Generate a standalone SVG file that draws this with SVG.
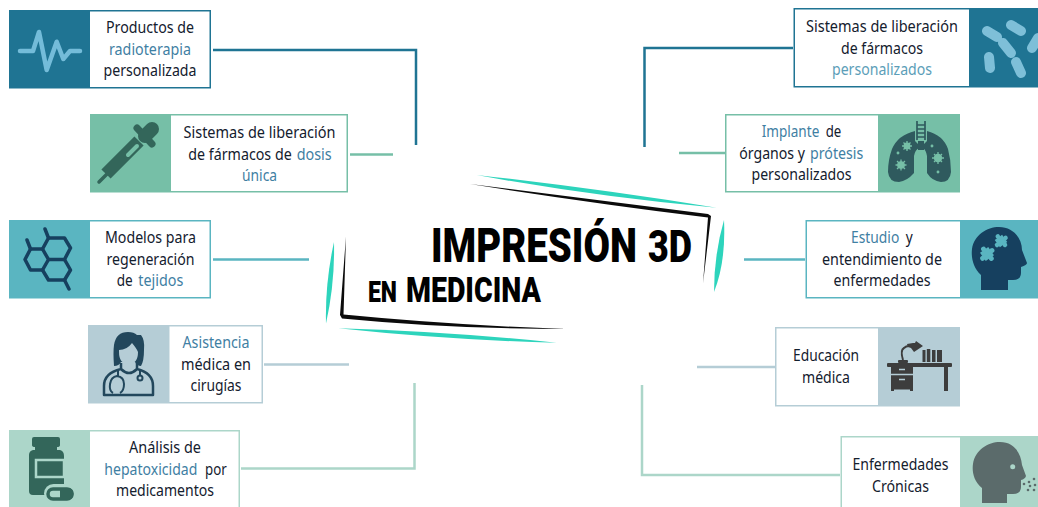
<svg xmlns="http://www.w3.org/2000/svg" width="1038" height="507" viewBox="0 0 1038 507">
<style>
text{font-family:"Noto Sans","Liberation Sans",sans-serif;font-size:16px;fill:#14202e;text-anchor:middle}
.s{text-anchor:start}
.h{fill:#3f80a3}.l{fill:#5c9eb8}
.t{font-family:Roboto,"Liberation Sans",sans-serif;font-weight:900;fill:#000;text-anchor:start}
.box{fill:#fff;stroke-width:1.5}
.c{fill:none;stroke-width:2.5}
.teal{fill:#2dd4bc}.blk{fill:#0b0b0b}
.a{stroke:#1f7493}.b{stroke:#76bfa7}.d{stroke:#5ab5c1}.e{stroke:#b5cdd6}.f{stroke:#acd6c9}
.fa{fill:#1f7493}.fb{fill:#76bfa7}.fd{fill:#5ab5c1}.fe{fill:#b5cdd6}.ff{fill:#acd6c9}
</style>
<rect width="1038" height="507" fill="#fff"/>
<g id="connectors">
<path class="c a" d="M213 50H416V145"/>
<path class="c b" d="M350 154.500H393"/>
<path class="c d" d="M213 259.500H309"/>
<path class="c e" d="M264 364.500H349"/>
<path class="c f" d="M241 468.500H414.500V383"/>
<path class="c a" d="M793 48H644.500V147"/>
<path class="c b" d="M725 153H679"/>
<path class="c d" d="M805 259.500H744"/>
<path class="c e" d="M775 367H697"/>
<path class="c f" d="M840 475H642V385"/>
</g>
<g id="title">
<path class="teal" d="M476.700 175Q597 188.500 716.700 207.700Q597 197 476.700 175Z"/>
<path class="blk" d="M470 184L708 214L711 216L703 283.500L708 217.500Q590 203 470 184Z"/>
<path class="teal" d="M724 220Q726 262 714 292Q714 255 724 220Z"/>
<path class="teal" d="M334 242Q325 283 326 323.500Q335 283 334 242Z"/>
<path class="blk" d="M346 236.500L343.500 314.500Q450 325 566.700 329Q450 329 342 318.500L340 315Z"/>
<path class="teal" d="M338.300 328.300Q447.500 331.500 556.700 342.700Q447.500 340 338.300 328.300Z"/>
<text class="t" transform="translate(431 261.500) scale(.78 1)" textLength="264" lengthAdjust="spacingAndGlyphs" style="font-size:49px">IMPRESIÓN</text>
<text class="t" x="648" y="261.500" textLength="44" lengthAdjust="spacingAndGlyphs" style="font-size:44px">3D</text>
<text class="t" x="368" y="301.500" textLength="29" lengthAdjust="spacingAndGlyphs" style="font-size:29px">EN</text>
<text class="t" x="406" y="301.500" textLength="135" lengthAdjust="spacingAndGlyphs" style="font-size:35px">MEDICINA</text>
</g>
<g id="node-radioterapia">
<rect class="box a" x="9.750" y="10.750" width="200.500" height="77"/>
<rect class="fa" x="9" y="10" width="81" height="78"/>
<path d="M20 51H33L39 32L46.700 70L56.700 41.700L63.300 59L70 51H80" fill="none" stroke="#74bcd9" stroke-width="4.500" stroke-linejoin="round" stroke-linecap="round"/>
<text x="150" y="33" textLength="88" lengthAdjust="spacingAndGlyphs">Productos de</text>
<text x="150" y="55" class="h" textLength="82" lengthAdjust="spacingAndGlyphs">radioterapia</text>
<text x="150" y="76" textLength="93" lengthAdjust="spacingAndGlyphs">personalizada</text>
</g>
<g id="node-dosis-unica">
<rect class="box b" x="90.750" y="114.750" width="256.500" height="77"/>
<rect class="fb" x="90" y="114" width="81" height="78"/>
<g fill="none" stroke="#33665a" stroke-linecap="round">
<path d="M99 182L108 173" stroke-width="3.500"/>
<path d="M106 174L139 141" stroke-width="13" stroke-linecap="butt"/>
<path d="M137 128L152 144" stroke-width="7"/>
<path d="M145 136L152 129" stroke-width="14"/>
</g>
<path d="M128 155L137 146" stroke="#76bfa7" stroke-width="4" stroke-linecap="round" fill="none"/>
<text x="259.500" y="138" textLength="152" lengthAdjust="spacingAndGlyphs">Sistemas de liberación</text>
<text class="s" x="188.300" y="160" textLength="103.400" lengthAdjust="spacingAndGlyphs">de fármacos de</text>
<text class="s h" x="296.700" y="160" textLength="35" lengthAdjust="spacingAndGlyphs">dosis</text>
<text x="259.500" y="181" class="h" textLength="35" lengthAdjust="spacingAndGlyphs">única</text>
</g>
<g id="node-tejidos">
<rect class="box d" x="9.750" y="220.750" width="200.500" height="77"/>
<rect class="fd" x="9" y="220" width="81" height="78"/>
<g fill="none" stroke="#16405f" stroke-width="3.500" stroke-linejoin="round" stroke-linecap="round">
<path d="M25 259.500L30.500 249H42.500L48.500 259.500L42.500 270H30.500Z"/>
<path d="M42.500 249L48.500 238H64.500L70.500 248L64.500 259.500H48.500"/>
<path d="M42.500 270L48.500 280H64.500L70.500 270L64.500 259.500"/>
<path d="M30.500 249L27 240M48.500 238L45 229M64.500 280L69 289"/>
</g>
<text x="150.500" y="243" textLength="91" lengthAdjust="spacingAndGlyphs">Modelos para</text>
<text x="150.500" y="265" textLength="88" lengthAdjust="spacingAndGlyphs">regeneración</text>
<text class="s" x="116.700" y="286" textLength="16" lengthAdjust="spacingAndGlyphs">de</text>
<text class="s h" x="138.300" y="286" textLength="45" lengthAdjust="spacingAndGlyphs">tejidos</text>
</g>
<g id="node-cirugias">
<rect class="box e" x="88.750" y="325.750" width="173.500" height="77"/>
<rect class="fe" x="88" y="325" width="81.500" height="78"/>
<path d="M114 366Q113 352 114 345Q116 332 128 332Q134 332 137 335L141 335Q145 340 144 350Q144 361 141 366Q137 366 135 362H121Q119 366 114 366Z" fill="#22475c"/>
<path d="M119 350Q127 350 132 343Q137 349 138 352Q138 364 128.500 364Q119 364 119 352Z" class="fe"/>
<g fill="none" stroke="#22475c" stroke-width="2.500" stroke-linejoin="round">
<path d="M121 363V369Q104 373 104 386V395H153V386Q153 373 137 369V363M121 369Q129 377 137 369"/>
<path d="M118 370V376M113 393Q109 391 110 384Q111 377 117 376Q124 377 124 384Q124 391 120 393M140 371V376" stroke-width="2"/>
<circle cx="140" cy="378" r="2.500" stroke-width="2"/>
</g>
<text x="216" y="348" class="h" textLength="67" lengthAdjust="spacingAndGlyphs">Asistencia</text>
<text x="216" y="370" textLength="70" lengthAdjust="spacingAndGlyphs">médica en</text>
<text x="216" y="391" textLength="51" lengthAdjust="spacingAndGlyphs">cirugías</text>
</g>
<g id="node-hepatoxicidad">
<rect class="box f" x="9.750" y="430.750" width="229.500" height="78"/>
<rect class="ff" x="9" y="430" width="81" height="77"/>
<path d="M34 437H58Q60 437 60 439V445Q60 447 57 447V450H60Q64 451 64 456V495H33Q29 495 29 491V455Q29 451 33 450H35V447Q32 447 32 445V439Q32 437 34 437Z" fill="#33665a"/>
<rect x="36" y="460" width="28" height="17" fill="none" stroke="#acd6c9" stroke-width="2.500"/>
<rect x="44" y="484" width="32" height="19" rx="9.500" fill="#acd6c9"/>
<rect x="48" y="489" width="24" height="10" rx="5" fill="#acd6c9" stroke="#33665a" stroke-width="3.500"/>
<path d="M60 488H68Q73.500 488 73.500 493.500Q73.500 499.500 68 499.500H60Z" fill="#33665a"/>
<text x="165" y="453" textLength="72" lengthAdjust="spacingAndGlyphs">Análisis de</text>
<text class="s h" x="104.300" y="475" textLength="93" lengthAdjust="spacingAndGlyphs">hepatoxicidad</text>
<text class="s" x="205" y="475" textLength="21.700" lengthAdjust="spacingAndGlyphs">por</text>
<text x="165" y="496" textLength="98" lengthAdjust="spacingAndGlyphs">medicamentos</text>
</g>
<g id="node-personalizados">
<rect class="box a" x="794.250" y="8.750" width="245" height="78"/>
<rect class="fa" x="969" y="8" width="69" height="79"/>
<path d="M987 31L997 37M1011 25L1021 31M1003 43L1011 53M989 57L990 68M1016 62L1021 73M1032 48L1038 38" stroke="#7ebfd8" stroke-width="10" stroke-linecap="round" fill="none"/>
<text x="882" y="32" textLength="152" lengthAdjust="spacingAndGlyphs">Sistemas de liberación</text>
<text x="882" y="54" textLength="82" lengthAdjust="spacingAndGlyphs">de fármacos</text>
<text x="882" y="75" class="l" textLength="100" lengthAdjust="spacingAndGlyphs">personalizados</text>
</g>
<g id="node-implante">
<rect class="box b" x="725.750" y="114.750" width="233.500" height="77"/>
<rect class="fb" x="878" y="114" width="82" height="78"/>
<path d="M917 121V140M925 121V140M917 125H925M917 129H925M917 133H925M917 137H925" stroke="#2f5a5e" stroke-width="1.700" fill="none"/>
<path d="M915 131V141L919 145V148Q915 150 914 156L914 173Q907 181 899 182Q889 182 888 172Q888 160 892 149Q898 135 915 131Z" fill="#2f5a5e"/>
<path d="M927 131V141L923 145V148Q926 150 927 156L927 173Q932 181 941 182Q950 182 951 172Q951 160 948 149Q943 135 927 131Z" fill="#2f5a5e"/>
<path d="M918 141H924V150H918Z" fill="#2f5a5e"/>
<g stroke="#76bfa7" stroke-width="1.300" fill="#76bfa7">
<circle cx="907" cy="146" r="2.800"/><path d="M907 141V151M902 146H912M903.500 142.500L910.500 149.500M910.500 142.500L903.500 149.500"/>
<circle cx="901" cy="165" r="3.200"/><path d="M901 159.500V170.500M895.500 165H906.500M897 161L905 169M905 161L897 169"/>
<circle cx="938" cy="158" r="3.500"/><path d="M938 152V164M932 158H944M934 154L942 162M942 154L934 162"/>
<circle cx="898" cy="153" r=".8"/><circle cx="932" cy="146" r=".8"/><circle cx="938" cy="172" r=".8"/>
</g>
<text class="s h" x="761.700" y="137" textLength="57.600" lengthAdjust="spacingAndGlyphs">Implante</text>
<text class="s" x="825.700" y="137" textLength="15.600" lengthAdjust="spacingAndGlyphs">de</text>
<text class="s" x="739.300" y="159" textLength="65.700" lengthAdjust="spacingAndGlyphs">órganos y</text>
<text class="s h" x="810" y="159" textLength="53.300" lengthAdjust="spacingAndGlyphs">prótesis</text>
<text x="801.500" y="180" textLength="100" lengthAdjust="spacingAndGlyphs">personalizados</text>
</g>
<g id="node-estudio">
<rect class="box d" x="806.250" y="220.750" width="233" height="77"/>
<rect class="fd" x="960" y="220" width="78" height="78"/>
<path d="M981 290V275C973 268 971 257 972 249C974 235 987 227 999 227C1013 227 1022 238 1022 250L1027 263Q1027 265 1021 267V273Q1021 280 1013 280H1008V290Z" fill="#16405f"/>
<g fill="#5ab5c1">
<g transform="translate(987 254) rotate(-35)"><rect x="-5" y="-5" width="10" height="10"/><circle cx="0" cy="-6" r="2.500"/><circle cx="6" cy="0" r="2.500"/><circle cx="-6" cy="1" r="2.500"/><circle cx="1" cy="6" r="2.500"/></g>
<g transform="translate(1001 241) rotate(-35)"><rect x="-4.500" y="-4.500" width="9" height="9"/><circle cx="0" cy="-5.500" r="2.300"/><circle cx="5.500" cy="0" r="2.300"/><circle cx="-5.500" cy="1" r="2.300"/><circle cx="1" cy="5.500" r="2.300"/></g>
</g>
<text class="s h" x="851" y="243" textLength="48.300" lengthAdjust="spacingAndGlyphs">Estudio</text>
<text class="s" x="905.700" y="243" textLength="7" lengthAdjust="spacingAndGlyphs">y</text>
<text x="882" y="265" textLength="120" lengthAdjust="spacingAndGlyphs">entendimiento de</text>
<text x="882" y="286" textLength="97" lengthAdjust="spacingAndGlyphs">enfermedades</text>
</g>
<g id="node-educacion">
<rect class="box e" x="775.750" y="327.750" width="183.500" height="78"/>
<rect class="fe" x="878" y="327" width="82" height="79"/>
<g fill="#3d3d3d">
<rect x="887" y="363" width="65" height="4" rx="1"/>
<rect x="944" y="367" width="4" height="24"/>
<path d="M891 367H913V391H910V389.500H894V391H891Z"/>
<rect x="898" y="360" width="10" height="3" rx="1"/>
<path d="M907 344L913 343L915 343L916 341L923 346L914 352L911 348L908 347Z"/>
<rect x="922.500" y="350" width="3" height="12"/><rect x="926.800" y="349" width="3.500" height="13"/><rect x="932" y="350" width="3.500" height="12"/><rect x="937" y="350" width="5" height="12"/>
</g>
<path d="M903 360Q900 350 904 348Q906 346 909 346" fill="none" stroke="#3d3d3d" stroke-width="2"/>
<path d="M891 374.500H913M899 369.500H905M899 379.500H905" stroke="#b5cdd6" stroke-width="1.400"/>
<text x="826" y="361" textLength="66" lengthAdjust="spacingAndGlyphs">Educación</text>
<text x="826" y="383" textLength="48" lengthAdjust="spacingAndGlyphs">médica</text>
</g>
<g id="node-cronicas">
<rect class="box f" x="841.250" y="436.750" width="198" height="72"/>
<rect class="ff" x="960" y="436" width="78" height="71"/>
<path d="M982 503V488C973 481 972 470 973 464C975 450 988 442 1000 442C1014 442 1021 453 1022 465L1026 476Q1025 479 1021 480V487Q1021 494 1013 494H1007V503Z" fill="#5b6b6b"/>
<circle cx="1012.700" cy="466.700" r="2.500" fill="#acd6c9"/>
<g fill="#5b6b6b"><circle cx="1024" cy="484" r="1.300"/><circle cx="1029" cy="482" r="1.300"/><circle cx="1034" cy="479" r="1.300"/><circle cx="1030" cy="486" r="1.300"/><circle cx="1035" cy="485" r="1.300"/><circle cx="1034" cy="490" r="1.300"/><circle cx="1028" cy="490" r="1.300"/></g>
<text x="900.500" y="470" textLength="96" lengthAdjust="spacingAndGlyphs">Enfermedades</text>
<text x="900.500" y="492" textLength="57" lengthAdjust="spacingAndGlyphs">Crónicas</text>
</g>
</svg>
